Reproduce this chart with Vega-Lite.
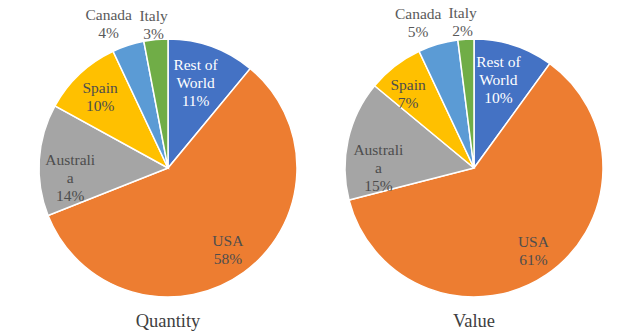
{
  "$schema": "https://vega.github.io/schema/vega-lite/v6.json",
  "padding": 0,
  "background": "white",
  "spacing": 0,
  "bounds": "flush",
  "config": {
    "view": {"stroke": null},
    "font": "Liberation Serif",
    "text": {"fontSize": 15.5, "lineHeight": 18, "lineBreak": "\n", "align": "center", "baseline": "middle", "color": "#4d4d4d"},
    "title": {"font": "Liberation Serif", "fontSize": 18.5, "fontWeight": "normal", "color": "#404040", "orient": "bottom", "offset": -24}
  },
  "data": {
    "values": [
      {"chart": "Quantity", "rank": 1, "country": "Rest of World", "share": 11, "label": "Rest of\nWorld\n11%"},
      {"chart": "Quantity", "rank": 2, "country": "USA", "share": 58, "label": "USA\n58%"},
      {"chart": "Quantity", "rank": 3, "country": "Australia", "share": 14, "label": "Australi\na\n14%"},
      {"chart": "Quantity", "rank": 4, "country": "Spain", "share": 10, "label": "Spain\n10%"},
      {"chart": "Quantity", "rank": 5, "country": "Canada", "share": 4, "label": "Canada\n4%"},
      {"chart": "Quantity", "rank": 6, "country": "Italy", "share": 3, "label": "Italy\n3%"},
      {"chart": "Value", "rank": 1, "country": "Rest of World", "share": 10, "label": "Rest of\nWorld\n10%"},
      {"chart": "Value", "rank": 2, "country": "USA", "share": 61, "label": "USA\n61%"},
      {"chart": "Value", "rank": 3, "country": "Australia", "share": 15, "label": "Australi\na\n15%"},
      {"chart": "Value", "rank": 4, "country": "Spain", "share": 7, "label": "Spain\n7%"},
      {"chart": "Value", "rank": 5, "country": "Canada", "share": 5, "label": "Canada\n5%"},
      {"chart": "Value", "rank": 6, "country": "Italy", "share": 2, "label": "Italy\n2%"}
    ]
  },
  "hconcat": [
    {
      "title": "Quantity",
      "width": 336,
      "height": 336,
      "transform": [{"filter": "datum.chart === 'Quantity'"}],
      "encoding": {
        "theta": {"field": "share", "type": "quantitative", "stack": true},
        "order": {"field": "rank", "type": "quantitative"}
      },
      "layer": [
        {
          "mark": {"type": "arc", "outerRadius": 129, "stroke": "white", "strokeWidth": 1.5},
          "encoding": {
            "color": {"field": "country", "type": "nominal", "legend": null,
              "scale": {"domain": ["Rest of World", "USA", "Australia", "Spain", "Canada", "Italy"],
                        "range": ["#4472C4", "#ED7D31", "#A5A5A5", "#FFC000", "#5B9BD5", "#70AD47"]}}
          }
        },
        {"mark": {"type": "text", "radius": 105, "dx": -8, "dy": -4, "color": "#FFFFFF"},
         "encoding": {"text": {"condition": {"test": "datum.rank === 1", "field": "label"}, "value": ""}}},
        {"mark": {"type": "text", "radius": 95, "dx": 4, "dy": -4},
         "encoding": {"text": {"condition": {"test": "datum.rank === 2", "field": "label"}, "value": ""}}},
        {"mark": {"type": "text", "radius": 98, "dx": 0, "dy": -2},
         "encoding": {"text": {"condition": {"test": "datum.rank === 3", "field": "label"}, "value": ""}}},
        {"mark": {"type": "text", "radius": 105, "dx": 4, "dy": -3},
         "encoding": {"text": {"condition": {"test": "datum.rank === 4", "field": "label"}, "value": ""}}},
        {"mark": {"type": "text", "radius": 150, "dx": -13, "dy": -10, "color": "#5a5a5a"},
         "encoding": {"text": {"condition": {"test": "datum.rank === 5", "field": "label"}, "value": ""}}},
        {"mark": {"type": "text", "radius": 153, "dx": 0, "dy": 0, "color": "#5a5a5a"},
         "encoding": {"text": {"condition": {"test": "datum.rank === 6", "field": "label"}, "value": ""}}}
      ]
    },
    {
      "title": "Value",
      "width": 276,
      "height": 336,
      "transform": [{"filter": "datum.chart === 'Value'"}],
      "encoding": {
        "theta": {"field": "share", "type": "quantitative", "stack": true},
        "order": {"field": "rank", "type": "quantitative"}
      },
      "layer": [
        {
          "mark": {"type": "arc", "outerRadius": 129, "stroke": "white", "strokeWidth": 1.5},
          "encoding": {
            "color": {"field": "country", "type": "nominal", "legend": null,
              "scale": {"domain": ["Rest of World", "USA", "Australia", "Spain", "Canada", "Italy"],
                        "range": ["#4472C4", "#ED7D31", "#A5A5A5", "#FFC000", "#5B9BD5", "#70AD47"]}}
          }
        },
        {"mark": {"type": "text", "radius": 108, "dx": -9, "dy": -3, "color": "#FFFFFF"},
         "encoding": {"text": {"condition": {"test": "datum.rank === 1", "field": "label"}, "value": ""}}},
        {"mark": {"type": "text", "radius": 95, "dx": 6, "dy": -5},
         "encoding": {"text": {"condition": {"test": "datum.rank === 2", "field": "label"}, "value": ""}}},
        {"mark": {"type": "text", "radius": 98, "dx": 0, "dy": 3},
         "encoding": {"text": {"condition": {"test": "datum.rank === 3", "field": "label"}, "value": ""}}},
        {"mark": {"type": "text", "radius": 106, "dx": -1, "dy": 1},
         "encoding": {"text": {"condition": {"test": "datum.rank === 4", "field": "label"}, "value": ""}}},
        {"mark": {"type": "text", "radius": 150, "dx": -14, "dy": -10, "color": "#5a5a5a"},
         "encoding": {"text": {"condition": {"test": "datum.rank === 5", "field": "label"}, "value": ""}}},
        {"mark": {"type": "text", "radius": 150, "dx": -2, "dy": -5, "color": "#5a5a5a"},
         "encoding": {"text": {"condition": {"test": "datum.rank === 6", "field": "label"}, "value": ""}}}
      ]
    }
  ]
}
